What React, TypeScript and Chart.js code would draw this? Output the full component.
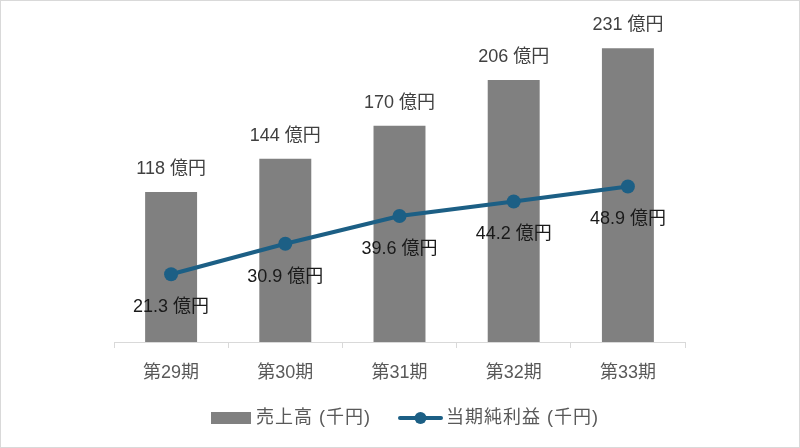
import React, { useEffect, useRef } from "react";
import { Chart, registerables } from "chart.js";

Chart.register(...registerables);

const categories = ["第29期", "第30期", "第31期", "第32期", "第33期"];
const salesValues = [118, 144, 170, 206, 231];
const profitValues = [21.3, 30.9, 39.6, 44.2, 48.9];
const salesLabels = ["118 億円", "144 億円", "170 億円", "206 億円", "231 億円"];
const profitLabels = ["21.3 億円", "30.9 億円", "39.6 億円", "44.2 億円", "48.9 億円"];
const salesName = "売上高 (千円)";
const profitName = "当期純利益 (千円)";

const FONT = "'Liberation Sans', 'Noto Sans CJK JP', sans-serif";
const BAR_COLOR = "#808080";
const LINE_COLOR = "#1C5F85";

const labelPlugin = {
  id: "valueLabels",
  afterDatasetsDraw(chart: any) {
    const ctx = chart.ctx;
    ctx.save();
    ctx.font = `18px ${FONT}`;
    ctx.textAlign = "center";
    ctx.textBaseline = "middle";
    const barMeta = chart.getDatasetMeta(0);
    barMeta.data.forEach((el: any, i: number) => {
      ctx.fillStyle = "#404040";
      ctx.fillText(salesLabels[i], el.x, el.y - 23);
    });
    const lineMeta = chart.getDatasetMeta(1);
    lineMeta.data.forEach((el: any, i: number) => {
      ctx.fillStyle = "#1a1a1a";
      ctx.fillText(profitLabels[i], el.x, el.y + 33);
    });
    ctx.restore();
  },
  afterDraw(chart: any) {
    const ctx = chart.ctx;
    ctx.save();
    const y = 417;
    ctx.fillStyle = BAR_COLOR;
    ctx.fillRect(210, y - 6, 40, 12);
    ctx.font = `18px ${FONT}`;
    (ctx as any).letterSpacing = "1px";
    ctx.textBaseline = "middle";
    ctx.textAlign = "left";
    ctx.fillStyle = "#595959";
    ctx.fillText(salesName, 255, y);
    ctx.strokeStyle = LINE_COLOR;
    ctx.lineWidth = 4;
    ctx.lineCap = "round";
    ctx.beginPath();
    ctx.moveTo(399, y);
    ctx.lineTo(440, y);
    ctx.stroke();
    ctx.fillStyle = LINE_COLOR;
    ctx.beginPath();
    ctx.arc(419.5, y, 6, 0, Math.PI * 2);
    ctx.fill();
    ctx.fillStyle = "#595959";
    ctx.fillText(profitName, 445, y);
    ctx.restore();
  },
};

export default function App() {
  const ref = useRef<HTMLCanvasElement>(null);
  useEffect(() => {
    if (!ref.current) return;
    const chart = new Chart(ref.current, {
      type: "bar",
      data: {
        labels: categories,
        datasets: [
          {
            type: "bar",
            label: salesName,
            data: salesValues,
            backgroundColor: BAR_COLOR,
            yAxisID: "y",
            barPercentage: 0.455,
            categoryPercentage: 1,
            order: 2,
          } as any,
          {
            type: "line",
            label: profitName,
            data: profitValues,
            borderColor: LINE_COLOR,
            backgroundColor: LINE_COLOR,
            borderWidth: 4,
            pointRadius: 7,
            pointHoverRadius: 7,
            pointBackgroundColor: LINE_COLOR,
            pointBorderWidth: 0,
            yAxisID: "y1",
            order: 1,
          } as any,
        ],
      },
      options: {
        animation: false,
        responsive: false,
        maintainAspectRatio: false,
        layout: { padding: { left: 113, right: 114, top: 23, bottom: 0 } },
        plugins: { legend: { display: false }, tooltip: { enabled: false } },
        scales: {
          x: {
            grid: {
              display: true,
              drawOnChartArea: false,
              drawTicks: true,
              tickLength: 6,
              color: "#D9D9D9",
              offset: true,
            },
            border: { display: true, color: "#D9D9D9", width: 1 },
            ticks: {
              color: "#595959",
              font: { size: 18, family: FONT },
              padding: 14,
            },
            afterFit: (axis: any) => {
              axis.height = 105;
            },
          },
          y: { display: false, min: 0, max: 250 },
          y1: { display: false, min: 0, max: 100, position: "right" },
        },
      },
      plugins: [labelPlugin],
    });
    return () => chart.destroy();
  }, []);
  return (
    <div
      style={{
        position: "fixed",
        left: 0,
        top: 0,
        width: 800,
        height: 448,
        boxSizing: "border-box",
        border: "1px solid #D9D9D9",
        background: "#fff",
      }}
    >
      <canvas
        ref={ref}
        width={798}
        height={446}
        style={{ display: "block", width: 798, height: 446 }}
      />
    </div>
  );
}
